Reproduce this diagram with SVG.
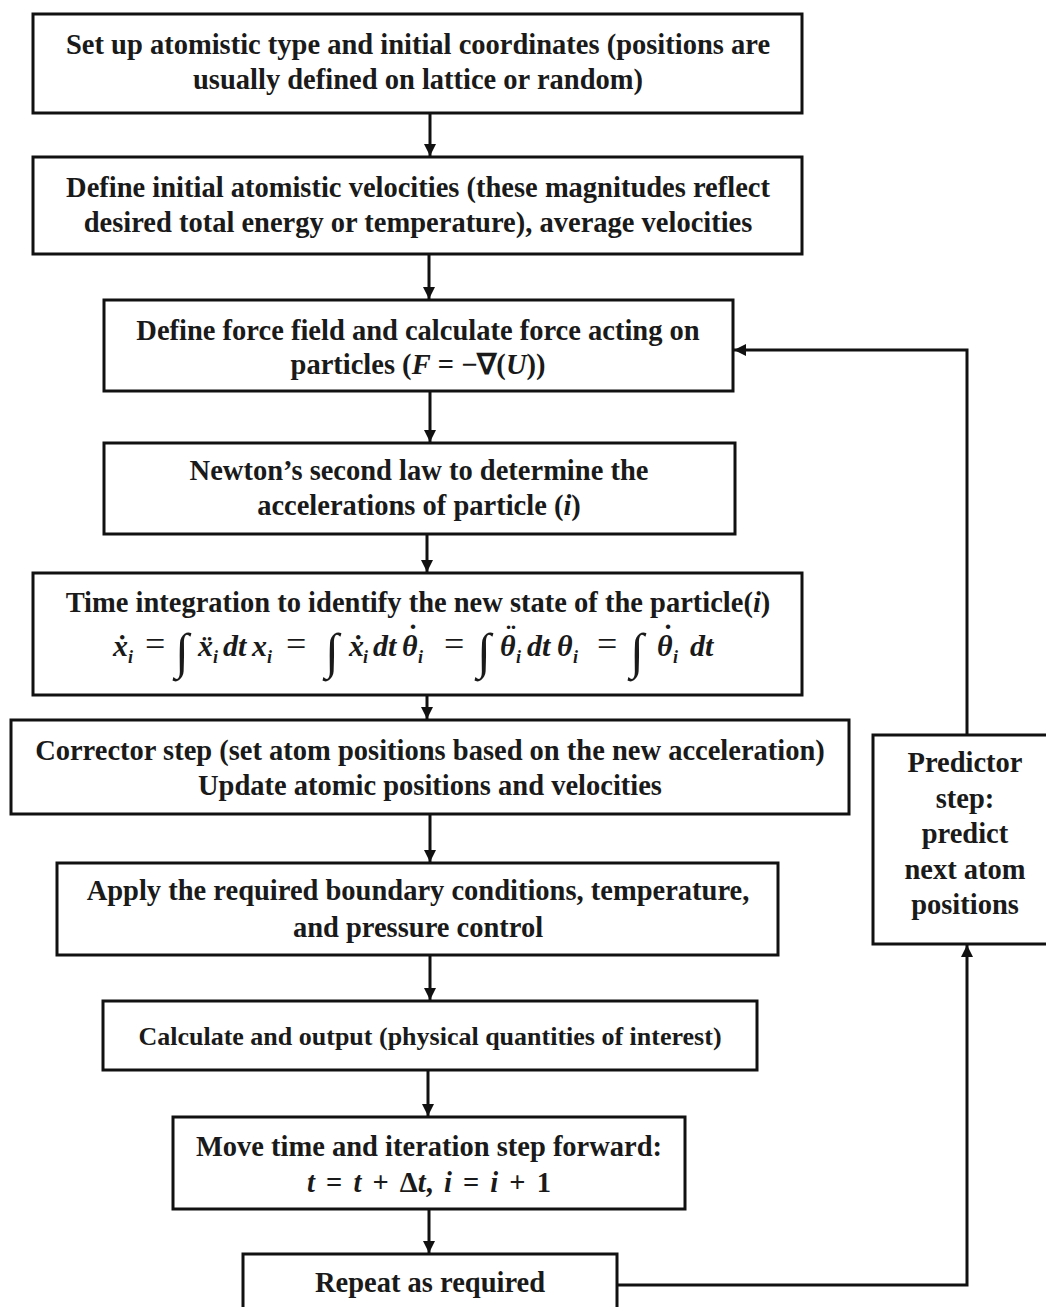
<svg xmlns="http://www.w3.org/2000/svg" width="1046" height="1307" viewBox="0 0 1046 1307">
<style>
.box{fill:#fff;stroke:#111;stroke-width:3}
.t{font-family:"Liberation Serif","Times New Roman",serif;font-weight:bold;font-size:28.5px;fill:#1a1a1a;text-anchor:middle}
.s{font-size:26px}
.v{font-style:italic}
.e{font-family:"Liberation Serif","Times New Roman",serif;font-weight:bold;font-style:italic;font-size:30px;fill:#1a1a1a}
.eq{font-style:normal;font-weight:normal;font-size:36px}
.sub{font-size:18px}
.int{font-weight:normal;font-style:normal;font-size:50px}
.d{font-style:normal}
.c{fill:none;stroke:#111;stroke-width:3}
</style>
<defs>
<marker id="ah" viewBox="0 0 10 10" refX="10" refY="5" markerUnits="userSpaceOnUse" markerWidth="12" markerHeight="12" orient="auto">
<path d="M0,0 L10,5 L0,10 z" fill="#111"/>
</marker>
</defs>
<rect width="1046" height="1307" fill="#fff"/>
<g id="connectors">
<line class="c" x1="430" y1="113" x2="430" y2="156" marker-end="url(#ah)"/>
<line class="c" x1="429" y1="254" x2="429" y2="299" marker-end="url(#ah)"/>
<line class="c" x1="430" y1="391" x2="430" y2="442" marker-end="url(#ah)"/>
<line class="c" x1="427" y1="534" x2="427" y2="572" marker-end="url(#ah)"/>
<line class="c" x1="427" y1="695" x2="427" y2="719" marker-end="url(#ah)"/>
<line class="c" x1="430" y1="814" x2="430" y2="862" marker-end="url(#ah)"/>
<line class="c" x1="430" y1="955" x2="430" y2="1000" marker-end="url(#ah)"/>
<line class="c" x1="428" y1="1070" x2="428" y2="1116" marker-end="url(#ah)"/>
<line class="c" x1="429" y1="1209" x2="429" y2="1253" marker-end="url(#ah)"/>
<polyline class="c" points="617,1285 967,1285 967,945" marker-end="url(#ah)"/>
<polyline class="c" points="967,735 967,350 734,350" marker-end="url(#ah)"/>
</g>
<g id="n1">
<rect class="box" x="33" y="14" width="769" height="99"/>
<text class="t" x="418" y="54">Set up atomistic type and initial coordinates (positions are</text>
<text class="t" x="418" y="89">usually defined on lattice or random)</text>
</g>
<g id="n2">
<rect class="box" x="33" y="157" width="769" height="97"/>
<text class="t" x="418" y="197">Define initial atomistic velocities (these magnitudes reflect</text>
<text class="t" x="418" y="232">desired total energy or temperature), average velocities</text>
</g>
<g id="n3">
<rect class="box" x="104" y="300" width="629" height="91"/>
<text class="t" x="418" y="340">Define force field and calculate force acting on</text>
<text class="t" x="418" y="374">particles (<tspan class="v">F</tspan> = −∇(<tspan class="v">U</tspan>))</text>
</g>
<g id="n4">
<rect class="box" x="104" y="443" width="631" height="91"/>
<text class="t" x="419" y="480">Newton’s second law to determine the</text>
<text class="t" x="419" y="515">accelerations of particle (<tspan class="v">i</tspan>)</text>
</g>
<g id="n5">
<rect class="box" x="33" y="573" width="769" height="122"/>
<text class="t" x="418" y="612">Time integration to identify the new state of the particle(<tspan class="v">i</tspan>)</text>
<text class="e" y="656"><tspan x="113">ẋ</tspan><tspan class="sub" x="128" y="663">i</tspan><tspan class="eq" x="145" y="656">=</tspan><tspan class="int" x="175" y="668">∫</tspan><tspan x="198" y="656">ẍ</tspan><tspan class="sub" x="213" y="663">i</tspan><tspan x="223" y="656">dt</tspan><tspan x="252" y="656">x</tspan><tspan class="sub" x="267" y="663">i</tspan><tspan class="eq" x="286" y="656">=</tspan><tspan class="int" x="325" y="668">∫</tspan><tspan x="349" y="656">ẋ</tspan><tspan class="sub" x="363" y="663">i</tspan><tspan x="373" y="656">dt</tspan><tspan x="402" y="656">θ</tspan><tspan class="d" x="408" y="645">˙</tspan><tspan class="sub" x="418" y="663">i</tspan><tspan class="eq" x="444" y="656">=</tspan><tspan class="int" x="477" y="668">∫</tspan><tspan x="500" y="656">θ</tspan><tspan class="d" x="506" y="645">¨</tspan><tspan class="sub" x="516" y="663">i</tspan><tspan x="527" y="656">dt</tspan><tspan x="557" y="656">θ</tspan><tspan class="sub" x="573" y="663">i</tspan><tspan class="eq" x="597" y="656">=</tspan><tspan class="int" x="630" y="668">∫</tspan><tspan x="657" y="656">θ</tspan><tspan class="d" x="663" y="645">˙</tspan><tspan class="sub" x="673" y="663">i</tspan><tspan x="690" y="656">dt</tspan></text>
</g>
<g id="n6">
<rect class="box" x="11" y="720" width="838" height="94"/>
<text class="t" x="430" y="760">Corrector step (set atom positions based on the new acceleration)</text>
<text class="t" x="430" y="795">Update atomic positions and velocities</text>
</g>
<g id="n7">
<rect class="box" x="57" y="863" width="721" height="92"/>
<text class="t" x="418" y="900">Apply the required boundary conditions, temperature,</text>
<text class="t" x="418" y="937">and pressure control</text>
</g>
<g id="n8">
<rect class="box" x="103" y="1001" width="654" height="69"/>
<text class="t s" x="430" y="1045">Calculate and output (physical quantities of interest)</text>
</g>
<g id="n9">
<rect class="box" x="173" y="1117" width="512" height="92"/>
<text class="t" x="429" y="1156">Move time and iteration step forward:</text>
<text class="t" x="429" y="1192" style="word-spacing:4px"><tspan class="v">t</tspan> = <tspan class="v">t</tspan> + Δ<tspan class="v">t</tspan>, <tspan class="v">i</tspan> = <tspan class="v">i</tspan> + 1</text>
</g>
<g id="n10">
<rect class="box" x="243" y="1254" width="374" height="70"/>
<text class="t" x="430" y="1292">Repeat as required</text>
</g>
<g id="n11">
<rect class="box" x="873" y="735" width="180" height="209"/>
<text class="t" x="965" y="772">Predictor</text>
<text class="t" x="965" y="808">step:</text>
<text class="t" x="965" y="843">predict</text>
<text class="t" x="965" y="879">next atom</text>
<text class="t" x="965" y="914">positions</text>
</g>
</svg>
